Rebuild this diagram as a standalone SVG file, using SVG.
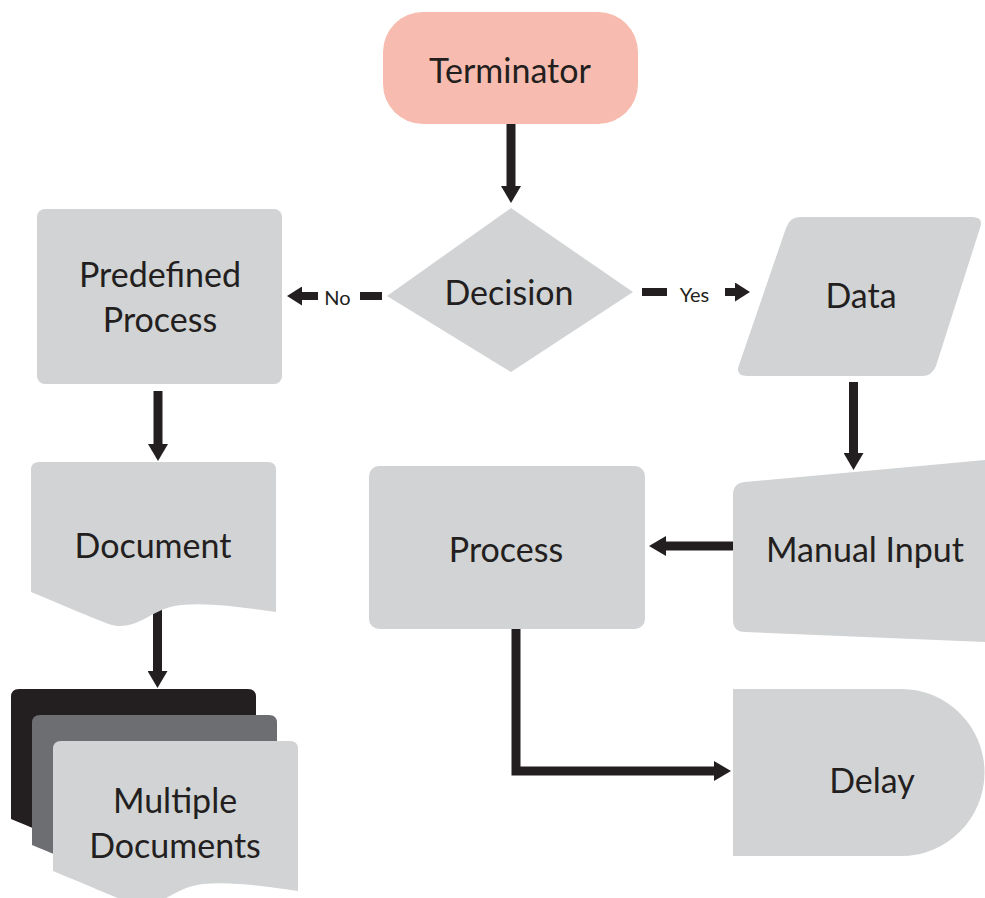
<svg xmlns="http://www.w3.org/2000/svg" width="985" height="898" viewBox="0 0 985 898">
  <style>
    .shape { fill: #d1d3d4; }
    .label { font-family: Lato, "Open Sans", "Liberation Sans", sans-serif; font-size: 34px; fill: #231f20; text-anchor: middle; }
    .small { font-size: 20px; }
    .wire { fill: none; stroke: #231f20; stroke-width: 9; stroke-linecap: butt; stroke-linejoin: miter; }
    .dash { fill: none; stroke: #231f20; stroke-width: 8; }
  </style>
  <defs>
    <marker id="head" markerUnits="userSpaceOnUse" markerWidth="17" markerHeight="20" refX="0" refY="10" orient="auto">
      <path d="M0,0 L17,10 L0,20 Z" fill="#231f20"/>
    </marker>
    <marker id="headSmall" markerUnits="userSpaceOnUse" markerWidth="15" markerHeight="19" refX="0" refY="9.5" orient="auto">
      <path d="M0,0 L15,9.5 L0,19 Z" fill="#231f20"/>
    </marker>
    <!-- document outline with wavy bottom edge, 245 wide -->
    <path id="docShape" d="M0,8 Q0,0 8,0 H237 Q245,0 245,8 V150 C215,146 180,140 150,143 C122,146 112,164 88,164 C80,164 72,160 0,130 Z"/>
  </defs>

  <g id="connectors">
    <!-- Terminator to Decision -->
    <line class="wire" x1="511" y1="124" x2="511" y2="186" marker-end="url(#head)"/>
    <!-- Decision to Predefined Process (No) -->
    <line class="dash" x1="382" y1="296" x2="360" y2="296"/>
    <text class="label small" x="337.5" y="305">No</text>
    <line class="dash" x1="318" y1="296" x2="302" y2="296" marker-end="url(#headSmall)"/>
    <!-- Decision to Data (Yes) -->
    <line class="dash" x1="642" y1="292" x2="667" y2="292"/>
    <text class="label small" x="694.5" y="302">Yes</text>
    <line class="dash" x1="725" y1="292" x2="735" y2="292" marker-end="url(#headSmall)"/>
    <!-- Predefined Process to Document -->
    <line class="wire" x1="158" y1="391" x2="158" y2="444" marker-end="url(#head)"/>
    <!-- Document to Multiple Documents -->
    <line class="wire" x1="157.5" y1="608" x2="157.5" y2="671" marker-end="url(#head)"/>
    <!-- Data to Manual Input -->
    <line class="wire" x1="853.5" y1="382" x2="853.5" y2="453" marker-end="url(#head)"/>
    <!-- Manual Input to Process -->
    <line class="wire" x1="737" y1="546" x2="666" y2="546" marker-end="url(#head)"/>
    <!-- Process to Delay -->
    <polyline class="wire" points="516,629 516,771 714,771" marker-end="url(#head)"/>
  </g>

  <g id="terminator">
    <rect x="383" y="12" width="255" height="112" rx="40" ry="40" fill="#f7bcaf"/>
    <text class="label" x="510" y="83">Terminator</text>
  </g>

  <g id="decision">
    <polygon class="shape" points="511,208 633,292 511,372 387,296"/>
    <text class="label" x="509" y="305">Decision</text>
  </g>

  <g id="predefined-process">
    <rect class="shape" x="37" y="209" width="245" height="175" rx="8" ry="8"/>
    <text class="label" x="160" y="287">Predefined</text>
    <text class="label" x="160" y="332">Process</text>
  </g>

  <g id="data">
    <path class="shape" d="M800,217 H972 Q984,217 980,228 L936,366 Q932,376 922,376 H747 Q735,376 739,365 L786,228 Q790,217 800,217 Z"/>
    <text class="label" x="861" y="308">Data</text>
  </g>

  <g id="document">
    <use href="#docShape" x="31" y="462" class="shape"/>
    <text class="label" x="153" y="558">Document</text>
  </g>

  <g id="manual-input">
    <path class="shape" d="M745,482 L985,460 L985,642 L745,632 Q733,632 733,620 L733,495 Q733,483 745,482 Z"/>
    <text class="label" x="865" y="562">Manual Input</text>
  </g>

  <g id="process">
    <rect class="shape" x="369" y="466" width="276" height="163" rx="10" ry="10"/>
    <text class="label" x="506" y="562">Process</text>
  </g>

  <g id="multiple-documents">
    <use href="#docShape" x="11" y="689" fill="#231f20"/>
    <use href="#docShape" x="32" y="715" fill="#6d6e71"/>
    <use href="#docShape" x="53" y="741" class="shape"/>
    <text class="label" x="175" y="813">Multiple</text>
    <text class="label" x="175" y="858">Documents</text>
  </g>

  <g id="delay">
    <path class="shape" d="M733,689 H901 A83.5,83.5 0 0 1 901,856 H733 Z"/>
    <text class="label" x="872" y="793">Delay</text>
  </g>
</svg>
